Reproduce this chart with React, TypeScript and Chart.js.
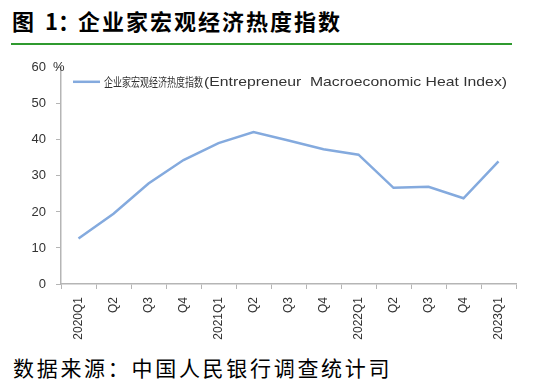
import React, { useEffect, useRef } from "react";
import { Chart, registerables } from "chart.js";

Chart.register(...registerables);

const categories = [
  "2020Q1", "Q2", "Q3", "Q4",
  "2021Q1", "Q2", "Q3", "Q4",
  "2022Q1", "Q2", "Q3", "Q4",
  "2023Q1",
];
const heatIndex = [12.6, 19.5, 27.9, 34.4, 39.1, 42.2, 39.8, 37.4, 35.9, 26.7, 27.0, 23.8, 34.0];
const seriesLabelCn = "企业家宏观经济热度指数";
const seriesLabelEn = "(Entrepreneur  Macroeconomic Heat Index)";
const titlePrefix = "图";
const titleNum = "1：";
const titleMain = "企业家宏观经济热度指数";
const source = "数据来源：中国人民银行调查统计司";
const yUnit = "%";

const LINE_COLOR = "#84aade";
const AXIS_COLOR = "#b5b5b5";
const TEXT_COLOR = "#333333";

function fitText(ctx: any, text: string, font: string, x: number, y: number, width: number) {
  ctx.font = font;
  const w = ctx.measureText(text).width;
  ctx.save();
  ctx.translate(x, y);
  ctx.scale(width / w, 1);
  ctx.fillText(text, 0, 0);
  ctx.restore();
}

export default function App() {
  const ref = useRef<HTMLCanvasElement | null>(null);

  useEffect(() => {
    if (!ref.current) return;
    const overlay = {
      id: "overlay",
      afterDraw(chart: any) {
        const ctx = chart.ctx;
        const area = chart.chartArea;
        ctx.save();
        ctx.fillStyle = TEXT_COLOR;
        ctx.font = "13px 'Liberation Sans'";
        ctx.textBaseline = "alphabetic";
        ctx.textAlign = "left";
        ctx.fillText(yUnit, area.left - 8, area.top + 3);
        const ly = area.top + 14;
        ctx.strokeStyle = LINE_COLOR;
        ctx.lineWidth = 2.5;
        ctx.beginPath();
        ctx.moveTo(area.left + 12, ly);
        ctx.lineTo(area.left + 39, ly);
        ctx.stroke();
        ctx.fillStyle = TEXT_COLOR;
        ctx.textBaseline = "middle";
        const x0 = area.left + 43;
        fitText(ctx, seriesLabelCn, "12.5px 'Noto Sans CJK SC'", x0, ly, 99);
        fitText(ctx, seriesLabelEn, "13.5px 'Liberation Sans'", x0 + 100, ly, 303);
        ctx.restore();
      },
    };

    const chart = new Chart(ref.current, {
      type: "line",
      data: {
        labels: categories,
        datasets: [
          {
            label: seriesLabelCn + seriesLabelEn,
            data: heatIndex,
            borderColor: LINE_COLOR,
            backgroundColor: LINE_COLOR,
            borderWidth: 2.5,
            pointRadius: 0,
            tension: 0,
          },
        ],
      },
      options: {
        animation: false,
        responsive: false,
        maintainAspectRatio: false,
        layout: { padding: { top: 12, right: 18, left: 0, bottom: 0 } },
        plugins: {
          legend: { display: false },
          tooltip: { enabled: false },
        },
        scales: {
          x: {
            type: "category",
            offset: true,
            grid: {
              offset: true,
              drawOnChartArea: false,
              drawTicks: true,
              tickLength: 5,
              color: AXIS_COLOR,
              lineWidth: 1,
            },
            border: { display: true, color: AXIS_COLOR, width: 1.5 },
            ticks: {
              autoSkip: false,
              maxRotation: 90,
              minRotation: 90,
              padding: 8,
              color: TEXT_COLOR,
              font: { family: "'Liberation Sans'", size: 12 },
            },
            afterFit(scale: any) {
              scale.height = 66;
            },
          },
          y: {
            min: 0,
            max: 60,
            grid: {
              drawOnChartArea: false,
              drawTicks: true,
              tickLength: 5,
              color: AXIS_COLOR,
              lineWidth: 1,
            },
            border: { display: true, color: AXIS_COLOR, width: 1.5 },
            ticks: {
              stepSize: 10,
              padding: 10,
              color: TEXT_COLOR,
              font: { family: "'Liberation Sans'", size: 13 },
            },
            afterFit(scale: any) {
              scale.width = 61;
            },
          },
        },
      },
      plugins: [overlay],
    });
    return () => chart.destroy();
  }, []);

  const titleStyle: React.CSSProperties = {
    position: "absolute",
    top: 4,
    fontFamily: "'Noto Sans CJK SC'",
    fontWeight: 700,
    fontSize: 22,
    lineHeight: "32px",
    color: "#000",
    whiteSpace: "nowrap",
  };

  return (
    <div style={{ position: "absolute", left: 0, top: 0, width: 534, height: 382, background: "#fff", overflow: "hidden" }}>
      <div style={{ ...titleStyle, left: 12 }}>{titlePrefix}</div>
      <div style={{ ...titleStyle, left: 45 }}>{titleNum}</div>
      <div style={{ ...titleStyle, left: 78, letterSpacing: 2 }}>{titleMain}</div>
      <div style={{ position: "absolute", left: 11, top: 43, width: 501, height: 2, background: "#2f9a2f" }} />
      <canvas ref={ref} width={534} height={300} style={{ position: "absolute", left: 0, top: 50, width: 534, height: 300 }} />
      <div
        style={{
          position: "absolute",
          left: 13,
          top: 352,
          fontFamily: "'Noto Sans CJK SC'",
          fontWeight: 400,
          fontSize: 21,
          lineHeight: "30px",
          letterSpacing: 2.7,
          color: "#000",
          whiteSpace: "nowrap",
        }}
      >
        {source}
      </div>
    </div>
  );
}
